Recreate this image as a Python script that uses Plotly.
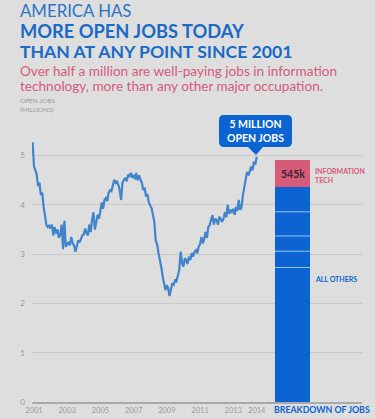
import pandas as pd
import plotly.graph_objects as go

# ---------------- data ----------------
start_month = "2000-12-01"
open_jobs_millions = [
    5.27,
    # 2001
    4.78, 4.70, 4.62, 4.38, 4.45, 4.20, 4.25, 3.96, 3.76, 3.59, 3.55, 3.58,
    # 2002
    3.52, 3.60, 3.38, 3.55, 3.42, 3.50, 3.33, 3.40, 3.60, 3.10, 3.68, 3.15,
    # 2003
    3.20, 3.25, 3.18, 3.35, 3.22, 3.18, 3.05, 3.20, 3.28, 3.24, 3.30, 3.38,
    # 2004
    3.40, 3.52, 3.43, 3.38, 3.60, 3.45, 3.70, 3.85, 3.50, 3.62, 3.80, 3.72,
    # 2005
    3.88, 4.05, 3.92, 4.10, 4.14, 4.08, 4.25, 4.30, 4.28, 4.38, 4.51, 4.45,
    # 2006
    4.47, 4.40, 4.30, 4.10, 4.45, 4.51, 4.55, 4.48, 4.61, 4.58, 4.65, 4.55,
    # 2007
    4.61, 4.52, 4.65, 4.50, 4.60, 4.51, 4.45, 4.30, 4.35, 4.17, 4.22, 4.05,
    # 2008
    4.00, 3.93, 3.80, 3.65, 3.28, 3.20, 3.02, 2.90, 2.74, 2.55, 2.41, 2.27,
    # 2009
    2.37, 2.30, 2.15, 2.28, 2.41, 2.38, 2.47, 2.45, 2.60, 2.68, 3.05, 2.82,
    # 2010
    2.75, 2.92, 2.88, 2.80, 2.95, 2.88, 3.02, 2.95, 3.05, 3.08, 3.02, 3.15,
    # 2011
    3.20, 3.35, 3.22, 3.30, 3.45, 3.33, 3.55, 3.59, 3.70, 3.79, 3.60, 3.72,
    # 2012
    3.69, 3.60, 3.76, 3.70, 3.66, 3.72, 3.85, 3.75, 4.00, 3.82, 3.90, 3.86,
    # 2013
    3.92, 3.80, 3.96, 3.88, 4.10, 3.90, 3.95, 4.20, 4.35, 4.55, 4.67, 4.60,
    # 2014
    4.72, 4.78, 4.70, 4.88, 4.82, 4.98,
]
x_tick_dates = ["2001-01-01", "2003-01-01", "2005-01-01", "2007-01-01",
                "2009-01-01", "2011-01-01", "2013-01-01", "2014-06-01"]
x_tick_labels = ["2001", "2003", "2005", "2007", "2009", "2011", "2013", "2014"]
y_ticks = [0, 1, 2, 3, 4, 5]

bar_category = ["jobs"]
all_others_segments = [2.73, 0.33, 0.31, 0.49, 0.50]   # millions
info_tech_value = 0.545                                 # millions
info_tech_label = "545k"

# ---------------- layout helpers ----------------
W, H = 375, 419
ML, MR, MT, MB = 32, 13, 131, 17
PW, PH = W - ML - MR, H - MT - MB


def px(x):
    return (x - ML) / PW


def py(y):
    return (H - MB - y) / PH


BG = "#dedede"
GRID = "#c9c9c9"
LINE_BLUE = "#3f84cc"
BAR_BLUE = "#0b64d2"
PINK = "#d65b79"
TITLE_BLUE = "#1a6ac6"
GRAY_TXT = "#9a9a9a"
FONT = "Lato"

months = pd.date_range(start_month, periods=len(open_jobs_millions), freq="MS")

fig = go.Figure()
fig.add_trace(go.Scatter(
    x=months, y=open_jobs_millions, mode="lines",
    line=dict(color=LINE_BLUE, width=2.2), xaxis="x", yaxis="y",
    hoverinfo="skip", showlegend=False,
))

for v in all_others_segments:
    fig.add_trace(go.Bar(
        x=bar_category, y=[v], xaxis="x2", yaxis="y", width=0.8,
        marker=dict(color=BAR_BLUE, line=dict(width=0)),
        showlegend=False, hoverinfo="skip",
    ))
fig.add_trace(go.Bar(
    x=bar_category, y=[info_tech_value], xaxis="x2", yaxis="y", width=0.8,
    marker=dict(color=PINK, line=dict(width=0)),
    showlegend=False, hoverinfo="skip",
))

shapes = []
# light dividers between the "all others" segments
cum = 0
for v in all_others_segments[:-1]:
    cum += v
    shapes.append(dict(type="line", xref="x2", yref="y", x0=-0.4, x1=0.4,
                       y0=cum, y1=cum, line=dict(color="#9cc0ee", width=1)))

# callout box with pointer
bx0, bx1, by0, by1, r = 219, 292, 115, 147, 5
path = (f"M {px(bx0 + r)} {py(by0)} L {px(bx1 - r)} {py(by0)} "
        f"Q {px(bx1)} {py(by0)} {px(bx1)} {py(by0 + r)} "
        f"L {px(bx1)} {py(by1 - r)} Q {px(bx1)} {py(by1)} {px(bx1 - r)} {py(by1)} "
        f"L {px(263)} {py(by1)} L {px(256)} {py(155)} L {px(248)} {py(by1)} "
        f"L {px(bx0 + r)} {py(by1)} Q {px(bx0)} {py(by1)} {px(bx0)} {py(by1 - r)} "
        f"L {px(bx0)} {py(by0 + r)} Q {px(bx0)} {py(by0)} {px(bx0 + r)} {py(by0)} Z")
shapes.append(dict(type="path", xref="paper", yref="paper", path=path,
                   fillcolor=BAR_BLUE, line=dict(width=0), layer="above"))

ann = []


def text(x, y, s, size, color, weight="normal", xanchor="left", yanchor="middle",
         align="left"):
    ann.append(dict(
        x=px(x), y=py(y), xref="paper", yref="paper",
        text=s, showarrow=False, xanchor=xanchor, yanchor=yanchor, align=align,
        font=dict(family=FONT, size=size, color=color, weight=weight),
    ))


text(18, 10, "AMERICA HAS", 16.8, "#2a74c8")
text(18, 30.5, "MORE OPEN JOBS TODAY", 18.3, TITLE_BLUE, weight="bold")
text(18, 51.5, "THAN AT ANY POINT SINCE 2001", 17.6, TITLE_BLUE, weight="bold")
text(18, 71, "Over half a million are well-paying jobs in information", 13.6, PINK)
text(18, 86, "technology, more than any other major occupation.", 13.6, PINK)
text(18, 100.5, "OPEN JOBS", 6.5, GRAY_TXT)
text(18, 110, "(MILLIONS)", 6.5, GRAY_TXT)

text(255.5, 131, "5 MILLION<br>OPEN JOBS", 10.5, "white", weight="bold",
     xanchor="center", align="center")

# bar labels
ann.append(dict(x=0, y=sum(all_others_segments) + info_tech_value / 2, xref="x2", yref="y",
                text=info_tech_label, showarrow=False, xanchor="center", yanchor="middle",
                font=dict(family=FONT, size=10.5, color="#3b2434", weight="bold")))
text(313, 175, "INFORMATION<br>TECH", 7, PINK, weight="bold")
text(313, 279, "ALL OTHERS", 7, BAR_BLUE, weight="bold")
text(272, 409.5, "BREAKDOWN OF JOBS", 8.8, BAR_BLUE, weight="bold")

fig.update_layout(
    width=W, height=H,
    margin=dict(l=ML, r=MR, t=MT, b=MB, pad=0, autoexpand=False),
    paper_bgcolor=BG, plot_bgcolor=BG,
    barmode="stack", bargap=0,
    showlegend=False, hovermode=False,
    shapes=shapes, annotations=ann,
    xaxis=dict(
        domain=[0, px(266)], type="date",
        range=["2000-11-18", "2014-12-22"],
        tickvals=x_tick_dates, ticktext=x_tick_labels,
        tickangle=0, automargin=False,
        showgrid=False, zeroline=False, showline=True, linecolor="#a9a9a9", linewidth=1.5,
        ticks="", tickfont=dict(family=FONT, size=7.5, color=GRAY_TXT),
    ),
    xaxis2=dict(
        domain=[px(266), 1], anchor="y", type="category",
        range=[-0.606, 1.581], automargin=False,
        showticklabels=False, showgrid=False, zeroline=False,
        showline=True, linecolor="#a9a9a9", linewidth=1.5, ticks="",
    ),
    yaxis=dict(
        range=[0, 5.5], tickvals=y_ticks, ticks="", automargin=False,
        showgrid=True, gridcolor=GRID, gridwidth=1, zeroline=False,
        tickfont=dict(family=FONT, size=8, color=GRAY_TXT),
        ticklabelstandoff=6,
    ),
)

fig.write_html(
    "out.html",
    config={"displayModeBar": False, "staticPlot": True},
    post_script="document.body.style.margin='0';document.body.style.background='#dedede';",
)
